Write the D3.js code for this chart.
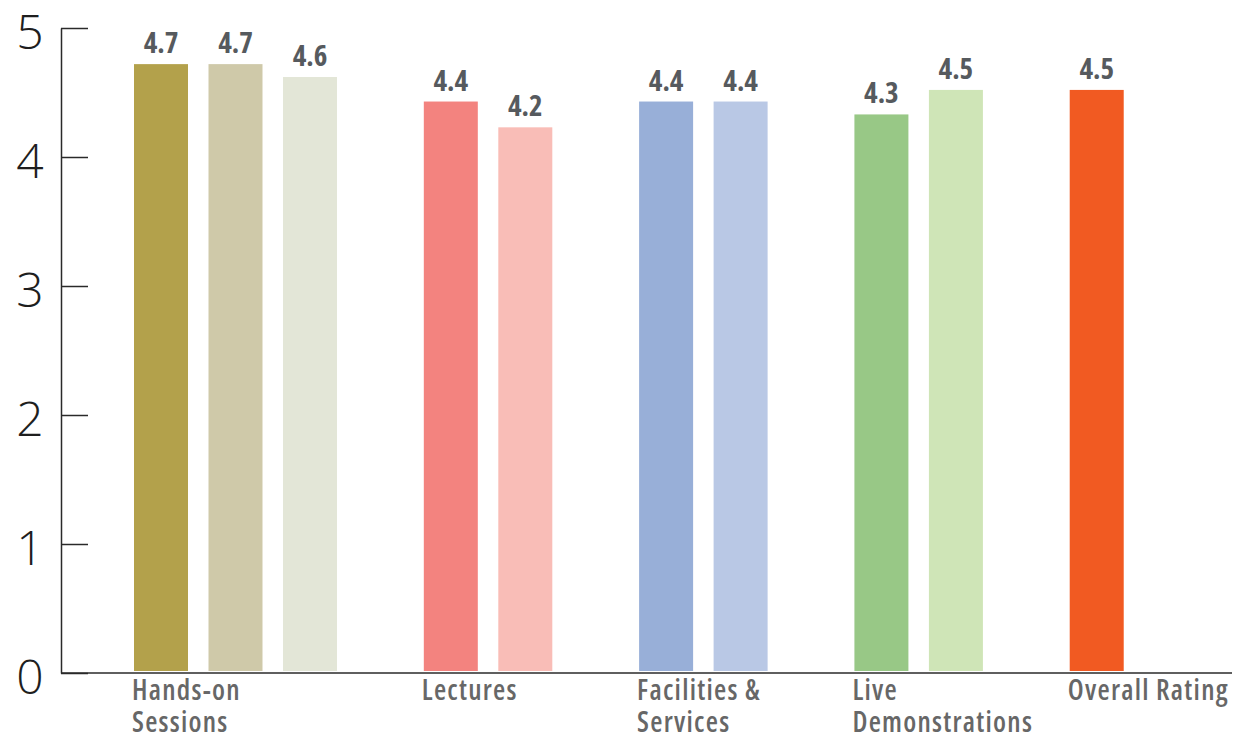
<!DOCTYPE html>
<html>
<head>
<meta charset="utf-8">
<script src="https://cdn.jsdelivr.net/npm/d3@7"></script>
<style>
  html, body { margin: 0; padding: 0; background: #ffffff; }
  svg { display: block; }
</style>
</head>
<body>
<svg id="chart" width="1245" height="740"></svg>
<script>
// ---- data ----
const categories = ["Hands-on Sessions", "Lectures", "Facilities & Services", "Live Demonstrations", "Overall Rating"];
const categoryLines = [["Hands-on", "Sessions"], ["Lectures"], ["Facilities &", "Services"], ["Live", "Demonstrations"], ["Overall Rating"]];
const handsOnValues = [4.72, 4.72, 4.62];
const lecturesValues = [4.43, 4.23];
const facilitiesValues = [4.43, 4.43];
const liveDemoValues = [4.33, 4.52];
const overallValues = [4.52];
const yTicks = [0, 1, 2, 3, 4, 5];

const seriesValues = [handsOnValues, lecturesValues, facilitiesValues, liveDemoValues, overallValues];
const seriesColors = [
  ["#b3a14b", "#cfc9a9", "#e3e6d7"],
  ["#f3837f", "#f9bdb7"],
  ["#98afd8", "#b9c8e5"],
  ["#98c886", "#cfe5b7"],
  ["#f15a22"]
];

// ---- layout ----
const svg = d3.select("#chart");
const y = d3.scaleLinear().domain([0, 5]).range([673, 28]);

const groupGap = 0.89; // extra slots between groups
const slotStarts = [];
let cursor = 0;
seriesValues.forEach((vals) => {
  slotStarts.push(cursor);
  cursor += vals.length + groupGap;
});
const x = d3.scaleLinear().domain([0, 1]).range([134, 134 + 74.5]);
const barW = 54;

const bars = [];
seriesValues.forEach((vals, gi) => {
  vals.forEach((v, bi) => {
    bars.push({ g: gi, i: bi, v: v, slot: slotStarts[gi] + bi, color: seriesColors[gi][bi] });
  });
});

const labelFont = "'Open Sans', 'Liberation Sans', sans-serif";

// bars
svg.append("g").selectAll("rect").data(bars).join("rect")
  .attr("x", d => x(d.slot))
  .attr("y", d => y(d.v))
  .attr("width", barW)
  .attr("height", d => y(0) - 2 - y(d.v))
  .attr("fill", d => d.color);

// value labels
const fmt = d3.format(".1f");
svg.append("g").selectAll("text").data(bars).join("text")
  .attr("x", d => x(d.slot) + barW / 2)
  .attr("y", d => y(d.v) - 11)
  .attr("text-anchor", "middle")
  .attr("font-family", labelFont)
  .attr("font-weight", 700)
  .style("font-stretch", "80%")
  .attr("font-size", 29)
  .attr("fill", "#565a5e")
  .text(d => fmt(d.v));

// y axis
const yAxis = d3.axisLeft(y).tickValues(yTicks).tickFormat(d3.format("d"))
  .tickSizeInner(-27).tickSizeOuter(0).tickPadding(31);
const yg = svg.append("g").attr("transform", "translate(61,0)").call(yAxis);
yg.select(".domain").attr("stroke", "#2a2a2a").attr("stroke-width", 1.5);
yg.selectAll(".tick line").attr("stroke", "#2a2a2a").attr("stroke-width", 1.5);
yg.selectAll(".tick text")
  .attr("text-anchor", "middle")
  .attr("x", -31)
  .attr("dy", "0.42em")
  .attr("font-family", "'Open Sans', 'Noto Sans', sans-serif")
  .attr("font-weight", 350)
  .attr("font-size", 48)
  .attr("fill", "#1e1e1e");

// x axis baseline
svg.append("line")
  .attr("x1", 61).attr("x2", 1232)
  .attr("y1", y(0)).attr("y2", y(0))
  .attr("stroke", "#2a2a2a").attr("stroke-width", 1.5);

// category labels
const catG = svg.append("g").selectAll("text").data(categoryLines).join("text")
  .attr("x", (d, i) => x(slotStarts[i]) - 2)
  .attr("y", 700)
  .attr("font-family", labelFont)
  .attr("font-weight", 600)
  .style("font-stretch", "80%")
  .attr("font-size", 28)
  .attr("letter-spacing", 1.25)
  .attr("fill", "#676767");
catG.selectAll("tspan").data(d => d).join("tspan")
  .attr("x", function () { return d3.select(this.parentNode).attr("x"); })
  .attr("dy", (d, i) => i === 0 ? 0 : 32)
  .text(d => d);
</script>
</body>
</html>
